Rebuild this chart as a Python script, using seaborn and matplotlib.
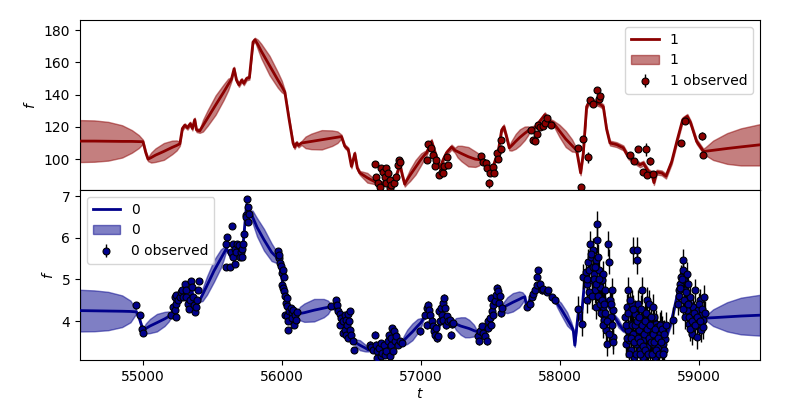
import numpy as np
import pandas as pd
import matplotlib
matplotlib.use("Agg")
import matplotlib.pyplot as plt
import seaborn as sns

# ---------------- band "1" (top panel) ----------------
top_t_line = [54547, 54650, 54750, 54850, 54920, 54970, 55000, 55020, 55036, 55059,
              55090, 55150, 55210, 55242, 55265, 55283, 55300, 55320, 55340, 55355,
              55372, 55385, 55408, 55431, 55465, 55522, 55580, 55613, 55636, 55655,
              55672, 55690, 55710, 55725, 55745, 55765, 55791, 55805, 55826, 55850,
              55910, 55970, 55998, 56020, 56050, 56079, 56090, 56105, 56118, 56140,
              56169, 56210, 56285, 56360, 56398, 56427, 56451, 56476, 56499, 56523,
              56541, 56559, 56613, 56667, 56700, 56750, 56800, 56830, 56847, 56865,
              56882, 56898, 56920, 56960, 57000, 57024, 57040, 57075, 57100, 57135,
              57160, 57183, 57219, 57243, 57262, 57290, 57340, 57390, 57416, 57435,
              57471, 57495, 57520, 57555, 57579, 57595, 57614, 57634, 57650, 57680,
              57710, 57745, 57768, 57782, 57818, 57854, 57890, 57926, 57950, 57968,
              57995, 58040, 58085, 58102, 58118, 58147, 58166, 58190, 58214, 58286,
              58310, 58334, 58358, 58406, 58454, 58490, 58538, 58574, 58598, 58634,
              58658, 58674, 58694, 58730, 58761, 58802, 58842, 58881, 58914, 58938,
              58981, 59029, 59045, 59100, 59200, 59300, 59437]
top_f_line = [111.2, 111.2, 111.1, 111.0, 111.0, 110.9, 110.8, 104.0, 100.0, 101.0,
              102.5, 104.8, 107.3, 108.5, 109.5, 119.0, 121.0, 119.5, 122.0, 119.0,
              124.5, 118.0, 117.5, 120.7, 125.5, 133.5, 141.5, 146.3, 149.5, 156.0,
              149.0, 146.0, 149.0, 147.0, 150.0, 150.5, 172.5, 174.0, 171.0, 167.0,
              158.0, 149.0, 145.0, 141.5, 125.0, 110.0, 107.5, 110.0, 108.5, 110.0,
              110.4, 111.0, 112.0, 113.0, 113.6, 114.0, 108.0, 106.0, 95.5, 103.5,
              94.5, 91.5, 88.5, 86.0, 84.5, 86.0, 85.0, 92.0, 97.0, 90.0,
              84.5, 87.0, 90.0, 95.0, 100.0, 102.5, 104.0, 111.0, 104.0, 94.5,
              100.0, 104.0, 107.5, 105.5, 104.7, 103.5, 101.5, 100.0, 99.7, 99.5,
              95.5, 91.5, 96.0, 105.0, 118.0, 120.0, 114.0, 107.0, 108.3, 111.0,
              113.5, 116.0, 117.5, 118.5, 119.5, 123.5, 127.5, 123.5, 122.5, 120.5,
              117.5, 112.5, 108.5, 107.0, 105.5, 91.5, 103.5, 132.5, 136.5, 134.0,
              132.5, 118.5, 110.0, 109.0, 107.0, 101.5, 98.5, 96.5, 97.5, 92.5,
              91.0, 85.5, 92.0, 91.5, 89.5, 98.5, 112.0, 124.5, 126.5, 122.5,
              111.0, 105.0, 104.9, 105.5, 106.6, 107.6, 108.9]
top_s_line = [13.0, 12.8, 12.0, 10.0, 7.0, 4.0, 1.2, 1.2, 1.2, 3.1,
              4.2, 5.2, 4.2, 3.1, 1.2, 1.2, 1.2, 1.2, 1.2, 1.2,
              1.2, 1.2, 1.2, 3.6, 4.8, 6.0, 4.8, 3.6, 1.2, 1.2,
              1.2, 1.2, 1.2, 1.2, 1.2, 1.2, 1.2, 1.2, 3.0, 4.5,
              6.0, 4.8, 3.6, 1.2, 1.2, 1.2, 1.2, 1.2, 1.2, 1.2,
              3.6, 4.8, 6.0, 4.8, 3.6, 1.2, 1.2, 1.2, 1.2, 1.2,
              1.2, 1.2, 3.0, 1.5, 1.5, 1.5, 1.5, 1.5, 1.5, 1.5,
              1.5, 2.4, 3.6, 4.5, 3.6, 2.4, 1.5, 1.5, 1.5, 1.5,
              1.5, 1.5, 1.5, 1.5, 3.6, 4.8, 6.0, 4.8, 3.6, 1.5,
              1.5, 1.5, 1.5, 1.5, 1.5, 1.5, 1.5, 1.5, 3.0, 4.6,
              5.0, 4.2, 2.8, 1.5, 1.5, 1.5, 1.5, 1.5, 1.5, 2.4,
              3.8, 5.0, 3.8, 2.4, 1.5, 1.5, 1.5, 1.5, 1.5, 1.5,
              1.5, 1.5, 1.5, 1.5, 1.5, 1.5, 1.5, 1.5, 1.5, 1.5,
              1.5, 1.5, 1.5, 1.5, 1.5, 1.5, 1.5, 1.5, 1.5, 1.5,
              1.5, 1.5, 2.5, 6.0, 9.5, 11.5, 12.8]

top_t_obs = [56667, 56679, 56691, 56703, 56715, 56727, 56739, 56746, 56751, 56763,
             56775, 56775, 56787, 56804, 56818, 56833, 56842, 56847, 57044, 57051,
             57068, 57082, 57099, 57106, 57130, 57147, 57159, 57166, 57188, 57195,
             57434, 57442, 57466, 57475, 57490, 57494, 57514, 57523, 57547, 57554,
             57571, 57571, 57787, 57806, 57818, 57830, 57837, 57854, 57878, 57890,
             57902, 57931, 58130, 58149, 58166, 58202, 58214, 58233, 58262, 58281,
             58290, 58502, 58530, 58561, 58593, 58617, 58621, 58645, 58665, 58869,
             58897, 59017, 59029]
top_f_obs = [97.1, 89.2, 85.1, 83.0, 94.4, 92.3, 89.2, 85.1, 94.4, 91.3,
             87.1, 82.0, 84.0, 85.1, 89.2, 96.5, 99.2, 98.5, 99.5, 109.5,
             106.8, 102.7, 95.8, 99.5, 90.2, 92.3, 91.2, 96.0, 101.6, 96.4,
             102.0, 98.5, 97.5, 94.4, 85.0, 91.3, 95.4, 91.7, 104.1, 100.0,
             106.2, 112.0, 118.2, 111.6, 111.4, 115.7, 121.3, 119.9, 120.7, 122.4,
             125.5, 121.3, 106.8, 82.5, 112.4, 101.2, 136.9, 134.4, 142.7, 137.3,
             139.0, 102.7, 99.0, 106.2, 92.3, 106.2, 90.2, 99.1, 90.9, 110.3,
             123.4, 114.1, 102.7]
top_e_obs = [1.5, 1.5, 1.5, 1.5, 1.5, 1.5, 1.5, 1.5, 1.5, 1.5,
             1.5, 1.5, 1.5, 1.5, 1.5, 1.5, 1.5, 1.5, 1.5, 1.5,
             1.5, 1.5, 1.5, 1.5, 1.5, 1.5, 1.5, 1.5, 1.5, 1.5,
             1.5, 1.5, 1.5, 1.5, 3.0, 1.5, 1.5, 1.5, 1.5, 1.5,
             2.5, 1.5, 1.5, 1.5, 1.5, 1.5, 1.5, 1.5, 1.5, 1.5,
             1.5, 1.5, 1.5, 1.5, 1.5, 3.5, 1.5, 1.5, 1.5, 1.5,
             1.5, 1.5, 1.5, 1.5, 1.5, 4.0, 1.5, 2.5, 1.5, 1.5,
             1.5, 2.5, 1.5]

# ---------------- band "0" (bottom panel) ----------------
bot_t_line = [54547, 54650, 54750, 54850, 54910, 54952, 54975, 55000, 55020, 55050,
              55100, 55155, 55185, 55204, 55230, 55260, 55290, 55320, 55350, 55375,
              55408, 55428, 55460, 55510, 55560, 55580, 55600, 55630, 55660, 55690,
              55720, 55745, 55767, 55788, 55820, 55870, 55925, 55955, 55975, 56000,
              56030, 56060, 56104, 56128, 56160, 56230, 56300, 56330, 56355, 56400,
              56440, 56480, 56511, 56530, 56560, 56600, 56619, 56680, 56740, 56800,
              56859, 56875, 56900, 56937, 56975, 56998, 57015, 57060, 57110, 57160,
              57231, 57250, 57285, 57315, 57345, 57380, 57399, 57450, 57500, 57540,
              57579, 57597, 57620, 57660, 57705, 57728, 57746, 57758, 57800, 57842,
              57900, 57962, 57977, 58005, 58050, 58080, 58094, 58105, 58130, 58150,
              58178, 58220, 58280, 58340, 58382, 58418, 58454, 58520, 58600, 58680,
              58760, 58800, 58850, 58900, 58960, 59041, 59100, 59200, 59300, 59437]
bot_f_line = [4.25, 4.245, 4.24, 4.235, 4.23, 4.22, 4.05, 3.78, 3.82, 3.88,
              3.96, 4.05, 4.11, 4.14, 4.50, 4.55, 4.70, 4.45, 4.75, 4.35,
              4.50, 4.63, 4.85, 5.20, 5.50, 5.62, 5.74, 5.55, 5.75, 5.62,
              5.85, 6.80, 6.62, 6.50, 6.25, 5.95, 5.65, 5.55, 5.45, 5.00,
              4.40, 4.18, 4.16, 4.18, 4.20, 4.26, 4.31, 4.33, 4.35, 4.25,
              4.05, 3.90, 3.51, 3.48, 3.42, 3.35, 3.31, 3.35, 3.30, 3.55,
              3.47, 3.53, 3.62, 3.74, 3.88, 3.96, 4.05, 4.25, 3.75, 4.10,
              3.95, 3.93, 3.88, 3.85, 3.82, 3.77, 3.75, 3.70, 3.95, 4.55,
              4.32, 4.34, 4.38, 4.45, 4.52, 4.56, 4.58, 4.35, 4.65, 4.85,
              4.72, 4.50, 4.43, 4.30, 4.05, 3.88, 3.78, 3.42, 4.20, 4.00,
              5.06, 5.30, 4.90, 4.40, 4.15, 3.95, 3.78, 3.70, 3.55, 3.45,
              3.60, 4.00, 4.74, 4.80, 4.30, 4.07, 4.08, 4.10, 4.12, 4.14]
bot_s_line = [0.50, 0.49, 0.46, 0.38, 0.26, 0.04, 0.04, 0.04, 0.12, 0.17,
              0.21, 0.17, 0.12, 0.04, 0.04, 0.04, 0.04, 0.04, 0.04, 0.04,
              0.04, 0.15, 0.22, 0.26, 0.22, 0.15, 0.04, 0.04, 0.04, 0.04,
              0.04, 0.04, 0.04, 0.15, 0.22, 0.26, 0.21, 0.15, 0.04, 0.04,
              0.04, 0.04, 0.04, 0.16, 0.22, 0.27, 0.22, 0.16, 0.04, 0.04,
              0.04, 0.04, 0.04, 0.08, 0.12, 0.08, 0.04, 0.04, 0.04, 0.04,
              0.04, 0.11, 0.17, 0.20, 0.17, 0.11, 0.04, 0.04, 0.04, 0.04,
              0.04, 0.14, 0.21, 0.24, 0.21, 0.14, 0.04, 0.04, 0.04, 0.04,
              0.04, 0.13, 0.19, 0.22, 0.19, 0.13, 0.04, 0.04, 0.04, 0.04,
              0.04, 0.04, 0.09, 0.14, 0.16, 0.09, 0.04, 0.04, 0.04, 0.04,
              0.04, 0.04, 0.04, 0.04, 0.04, 0.10, 0.04, 0.04, 0.04, 0.04,
              0.04, 0.08, 0.04, 0.04, 0.04, 0.04, 0.20, 0.35, 0.44, 0.49]

bot_t_obs = [54952, 54981, 54995, 55000,
             55204, 55216, 55228, 55228, 55235, 55240, 55240, 55252, 55264, 55276,
             55283, 55288, 55300, 55307, 55312, 55324, 55331, 55336, 55348, 55355,
             55360, 55367, 55372, 55384, 55389, 55396, 55403,
             55595, 55600, 55605, 55624, 55636, 55643, 55648, 55648, 55660, 55660,
             55672, 55677, 55691, 55696, 55708, 55715, 55715, 55720, 55724, 55739,
             55744, 55748, 55756, 55756, 55763,
             55972, 55977, 55979, 55984, 55996, 56001, 56003, 56008, 56008, 56015,
             56015, 56020, 56020, 56027, 56032, 56032, 56037, 56044, 56044, 56051,
             56061, 56068, 56075, 56080, 56085, 56092, 56099, 56104,
             56355, 56391, 56396, 56403, 56415, 56420, 56427, 56439, 56439, 56451,
             56451, 56463, 56463, 56468, 56475, 56475, 56483, 56487, 56487, 56499,
             56511, 56516,
             56631, 56643, 56655, 56667, 56674, 56684, 56686, 56698, 56710, 56715,
             56722, 56732, 56739, 56751, 56763, 56770, 56775, 56780, 56787, 56794,
             56799, 56804, 56811, 56823, 56835, 56847, 56859,
             56991, 57027, 57039, 57044, 57051, 57058, 57063, 57075, 57082, 57092,
             57099, 57106, 57111, 57123, 57130, 57135, 57140, 57147, 57154, 57159,
             57164, 57171, 57178, 57183, 57195, 57207, 57212, 57219, 57231,
             57411, 57418, 57423, 57435, 57447, 57459, 57471, 57478, 57483, 57495,
             57499, 57499, 57507, 57514, 57519, 57531, 57538, 57547, 57555, 57562,
             57567, 57574, 57579,
             57758, 57782, 57794, 57806, 57818, 57830, 57835, 57842, 57854, 57866,
             57878, 57902, 57914, 57938, 57962,
             58130, 58154, 58166, 58185, 58190, 58190, 58202, 58209, 58214, 58219,
             58226, 58233, 58238, 58243, 58250, 58255, 58257, 58262, 58267, 58274,
             58279, 58281, 58286, 58291, 58298, 58305, 58310, 58315, 58322, 58329,
             58334, 58346, 58353, 58358, 58363, 58370, 58377, 58382,
             58466, 58473, 58478, 58485, 58490, 58497, 58502, 58507, 58509, 58514,
             58521, 58526, 58531, 58538, 58545, 58550, 58555, 58562, 58569, 58574,
             58579, 58586, 58593, 58598, 58610, 58617, 58622, 58627, 58634, 58641,
             58646, 58658, 58665, 58670, 58674, 58682, 58689, 58694, 58699, 58706,
             58718, 58723, 58730, 58737, 58746, 58754, 58808,
             58849, 58857, 58861, 58869, 58881, 58886, 58891, 58897, 58904, 58909,
             58914, 58921, 58928, 58933, 58941, 58945, 58953, 58957, 58969, 58977,
             58981, 58993, 59001, 59005, 59013, 59017, 59025, 59029, 59034]
bot_f_obs = [4.38, 4.14, 3.82, 3.72,
             4.14, 4.34, 4.58, 4.26, 4.42, 4.62, 4.10, 4.50, 4.58, 4.70,
             4.74, 4.58, 4.90, 4.74, 4.58, 4.42, 4.30, 4.50, 4.97, 4.82,
             4.58, 4.38, 4.22, 4.34, 4.50, 4.74, 4.97,
             5.30, 5.86, 6.02, 5.30, 5.66, 6.28, 5.86, 5.54, 5.74, 5.38,
             5.66, 5.86, 5.82, 5.54, 5.66, 5.54, 5.74, 5.86, 6.09, 6.54,
             6.50, 6.92, 6.74, 6.38, 6.57,
             5.67, 5.51, 5.59, 5.39, 5.31, 5.15, 4.87, 5.23, 4.79, 5.05,
             4.71, 4.59, 4.15, 4.43, 4.55, 4.11, 4.35, 3.99, 3.79, 4.23,
             4.31, 4.19, 4.07, 4.27, 3.91, 4.15, 4.03, 4.22,
             4.35, 4.51, 4.39, 4.25, 4.17, 3.91, 4.07, 4.01, 3.71, 4.15,
             3.79, 4.03, 3.67, 3.91, 4.17, 3.59, 3.99, 4.23, 3.79, 3.67,
             3.51, 3.31,
             3.43, 3.37, 3.31, 3.67, 3.43, 3.11, 3.27, 3.35, 3.47, 3.15,
             3.23, 3.43, 3.19, 3.27, 3.51, 3.67, 3.15, 3.43, 3.59, 3.83,
             3.27, 3.75, 3.51, 3.63, 3.43, 3.51, 3.47,
             3.75, 4.15, 4.31, 3.91, 4.39, 4.27, 4.15, 3.99, 3.87, 3.75,
             3.67, 3.83, 3.59, 3.63, 4.23, 3.99, 4.31, 4.15, 4.43, 4.03,
             4.55, 4.31, 3.91, 4.11, 3.99, 4.03, 3.67, 3.93, 3.95,
             3.63, 3.51, 3.75, 3.87, 3.71, 3.63, 3.51, 3.83, 3.99, 4.07,
             3.91, 4.55, 4.23, 4.15, 4.39, 4.47, 4.63, 4.79, 4.71, 4.43,
             4.59, 4.19, 4.31,
             4.34, 4.42, 4.58, 4.66, 4.74, 4.86, 5.06, 5.22, 4.90, 4.74,
             4.78, 4.70, 4.74, 4.58, 4.50,
             4.30, 3.94, 5.06, 5.18, 4.90, 4.50, 5.42, 5.22, 5.86, 5.54,
             4.98, 5.30, 5.70, 5.14, 4.74, 4.34, 5.46, 6.34, 5.94, 5.54,
             4.58, 5.22, 4.82, 4.50, 4.98, 4.34, 5.14, 4.02, 4.74, 3.78,
             3.46, 5.86, 5.42, 4.50, 4.10, 4.74, 3.62, 4.26,
             4.10, 3.46, 4.34, 3.78, 4.74, 3.54, 3.94, 4.26, 3.30, 4.42,
             3.70, 5.70, 3.14, 4.18, 3.46, 5.70, 5.46, 4.42, 3.78, 3.30,
             4.02, 4.74, 3.54, 3.14, 4.18, 3.70, 3.38, 4.50, 3.94, 4.42,
             3.22, 3.78, 3.46, 4.34, 4.10, 3.14, 3.94, 3.62, 3.86, 3.38,
             3.70, 3.94, 3.22, 3.46, 3.30, 3.58, 4.02,
             4.42, 4.74, 4.90, 5.06, 5.46, 5.22, 4.98, 4.74, 4.50, 5.14,
             4.26, 4.90, 3.94, 4.58, 4.10, 3.70, 4.34, 3.86, 4.74, 4.10,
             3.62, 4.26, 3.94, 4.50, 3.78, 4.18, 4.02, 3.86, 4.58]
bot_e_obs = ([0.08] * 4 + [0.06] * 27 + [0.07] * 25 + [0.05] * 28 + [0.06] * 22
             + [0.08] * 27 + [0.09] * 29 + [0.09] * 23 + [0.08] * 15
             + [0.30] * 38 + [0.32] * 47 + [0.28] * 29)

# extra, noisier late-season observations of band "0"
late_t_obs = [58195, 58205, 58222, 58230, 58240, 58247, 58260, 58270, 58277, 58284,
              58293, 58300, 58308, 58318, 58325, 58340, 58350, 58366, 58374, 58380,
              58470, 58480, 58488, 58495, 58503, 58512, 58518, 58525, 58533, 58540,
              58548, 58552, 58558, 58565, 58572, 58577, 58583, 58590, 58595, 58602,
              58607, 58613, 58620, 58625, 58630, 58637, 58643, 58650, 58655, 58662,
              58667, 58678, 58685, 58692, 58702, 58710, 58715, 58727, 58735, 58742,
              58750, 58758,
              58853, 58865, 58875, 58883, 58893, 58900, 58907, 58918, 58925, 58937,
              58948, 58962, 58973, 58985, 58997, 59009, 59021, 59038]
late_f_obs = [5.0, 4.7, 5.6, 4.6, 5.0, 5.3, 4.9, 4.6, 5.0, 4.4,
              4.2, 4.5, 3.9, 4.4, 4.2, 4.0, 3.7, 4.4, 3.9, 3.5,
              3.9, 3.6, 4.2, 3.2, 4.5, 3.6, 3.9, 4.3, 3.5, 3.9,
              3.2, 4.0, 3.6, 4.1, 3.5, 3.2, 4.3, 3.9, 3.4, 3.7,
              4.0, 3.3, 4.2, 3.8, 3.2, 3.6, 3.9, 3.5, 4.1, 3.2,
              3.7, 3.5, 3.8, 3.3, 3.6, 3.2, 3.9, 3.5, 3.8, 3.2,
              3.7, 3.9,
              4.6, 4.8, 5.0, 4.3, 4.5, 4.1, 4.7, 4.4, 4.1, 3.8,
              4.0, 4.2, 3.9, 4.1, 4.4, 4.0, 4.3, 4.2]
late_e_obs = [0.30] * 20 + [0.32] * 42 + [0.28] * 18

fill_top = pd.DataFrame({"t": top_t_line, "f": top_f_line, "s": top_s_line})
fill_bot = pd.DataFrame({"t": bot_t_line, "f": bot_f_line, "s": bot_s_line})
obs_top = pd.DataFrame({"t": top_t_obs, "f": top_f_obs, "e": top_e_obs})
obs_bot = pd.DataFrame({"t": bot_t_obs + late_t_obs,
                        "f": bot_f_obs + late_f_obs,
                        "e": bot_e_obs + late_e_obs})

fig, (ax1, ax2) = plt.subplots(2, 1, sharex=True, figsize=(8, 4), dpi=100)
fig.subplots_adjust(left=0.1, right=0.95, top=0.95, bottom=0.1, hspace=0)

panels = [
    (ax1, fill_top, obs_top, "darkred", "1", "upper right", (80.9, 186.2)),
    (ax2, fill_bot, obs_bot, "darkblue", "0", "upper left", (3.065, 7.144)),
]
for ax, ln, ob, col, name, loc, ylim in panels:
    sns.lineplot(data=ln, x="t", y="f", ax=ax, color=col, lw=2, label=name,
                 zorder=3, sort=True)
    ax.fill_between(ln["t"], ln["f"] - ln["s"], ln["f"] + ln["s"],
                    color=col, alpha=0.5, label=name, zorder=2)
    ax.errorbar(ob["t"], ob["f"], yerr=ob["e"], fmt="o", ms=5,
                mfc=col, mec="black", mew=0.8, ecolor="black", elinewidth=1,
                label=f"{name} observed", zorder=4)
    ax.set_ylim(*ylim)
    ax.set_ylabel("$f$")
    ax.set_xlabel("")
    ax.legend(loc=loc)

ax1.set_yticks([100, 120, 140, 160, 180])
ax2.set_yticks([4, 5, 6, 7])
ax2.set_xlim(54547, 59437)
ax2.set_xticks([55000, 56000, 57000, 58000, 59000])
ax2.set_xlabel("$t$", labelpad=2)

fig.savefig("out.png", dpi=100)
